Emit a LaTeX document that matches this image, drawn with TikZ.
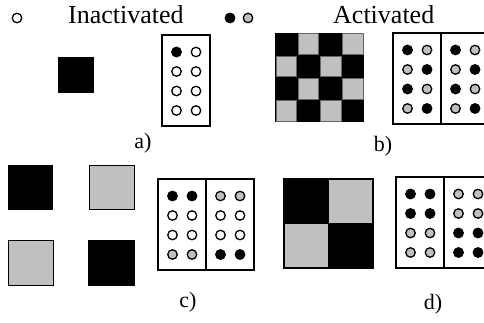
\documentclass[tikz,border=0pt]{standalone}
\usepackage{fontspec}
\setmainfont{Liberation Serif}
\usetikzlibrary{positioning}

\definecolor{litegray}{RGB}{192,192,192}

\tikzset{
  dot/.style={circle,draw,line width=1.3pt,minimum size=9.5pt,inner sep=0pt},
  idle/.style={dot,fill=white},
  act/.style={dot,fill=black},
  actg/.style={dot,fill=litegray},
  panel/.style={draw,line width=1.4pt},
  cellg/.style={fill=litegray,draw=black!60,line width=0.6pt},
  tag/.style={inner sep=0pt,font=\fontsize{22}{24}\selectfont},
  head/.style={inner sep=0pt,anchor=base west,font=\fontsize{26}{28}\selectfont}
}

% half of a state box: left, top, name, row patterns
\newcommand{\halfbox}[4]{%
  \draw[panel] (#1,#2) rectangle ++(48,91);
  \foreach \lf/\rt [count=\i] in {#4} {
    \node[\lf] (#3-\i-l) at (#1+14.5,#2+17+19.5*\i-19.5) {};
    \node[\rt] (#3-\i-r) at (#1+34,#2+17+19.5*\i-19.5) {};
  }
}

\begin{document}
\begin{tikzpicture}[x=1pt,y=-1pt]
  \useasboundingbox (0,0) rectangle (484,323);
  \clip (0,0) rectangle (484,323);

  % legend
  \node[idle] (lg1) at (17,18) {};
  \node[head] (inact) at (68,24) {Inactivated};
  \node[act]  (lg2) at (230,18) {};
  \node[actg] (lg3) at (248,18) {};
  \node[head] (actv) at (333,24) {Activated};

  % a)
  \fill (58,57) rectangle ++(36,36);
  \halfbox{162}{35}{a}{act/idle,idle/idle,idle/idle,idle/idle}
  \node[tag] (la) at (143,143) {a)};

  % b)
  \fill (275,33) rectangle ++(89,89);
  \foreach \r/\c in {0/1,0/3,1/0,1/2,2/1,2/3,3/0,3/2}
    \filldraw[cellg] (275.8+22.25*\c,33.8+22.25*\r) rectangle ++(20.6,20.6);
  \halfbox{393}{33}{bl}{act/actg,actg/act,act/actg,actg/act}
  \halfbox{441}{33}{br}{act/actg,actg/act,act/actg,actg/act}
  \node[tag] (lb) at (383,146) {b)};

  % c)
  \fill (8,165) rectangle ++(45,45);
  \filldraw[litegray,draw=black,line width=1.6pt] (89.5,165.5) rectangle ++(45,44);
  \filldraw[litegray,draw=black,line width=1.6pt] (8.5,240.5) rectangle ++(45,45);
  \fill (88,240) rectangle ++(47,46);
  \halfbox{158}{179}{cl}{act/act,idle/idle,idle/idle,actg/actg}
  \halfbox{206}{179}{cr}{actg/actg,idle/idle,idle/idle,act/act}
  \node[tag] (lc) at (188,302) {c)};

  % d)
  \fill (284,179) rectangle ++(89,89);
  \fill[litegray] (328.5,179) rectangle ++(44.5,44.5);
  \fill[litegray] (284,223.5) rectangle ++(44.5,44.5);
  \draw[line width=1.4pt] (284,179) rectangle ++(89,89)
    (328.5,179) -- ++(0,89) (284,223.5) -- ++(89,0);
  \halfbox{396}{177}{dl}{act/act,act/act,actg/actg,actg/actg}
  \halfbox{444}{177}{dr}{actg/actg,actg/actg,act/act,act/act}
  \node[tag] (ld) at (433,304) {d)};
\end{tikzpicture}
\end{document}
